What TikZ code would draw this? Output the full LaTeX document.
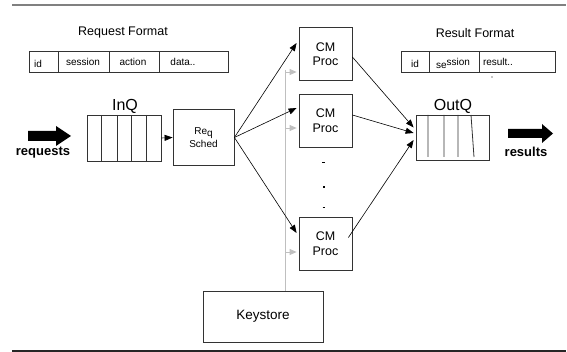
\documentclass[tikz,border=0pt]{standalone}
\usepackage{fontspec}
\setmainfont{Liberation Sans}
\usetikzlibrary{arrows.meta}
\begin{document}
\begin{tikzpicture}[x=1pt,y=-1pt,
  box/.style={draw=black!80,line width=0.8pt,inner sep=0pt,align=center},
  lbl/.style={inner sep=0pt,anchor=center},
  arr/.style={-{Triangle[length=8pt,width=6pt]},line width=0.6pt},
  garr/.style={-{Triangle[length=7pt,width=6pt]},draw=black!25,line width=0.8pt,shorten >=2pt},
  div/.style={draw=black!80,line width=0.8pt}]
\useasboundingbox (0,0) rectangle (567,352);
% rules
\draw[black!50,line width=2pt] (12,5) -- (566,5);
\draw[black!85,line width=1.3pt] (12,351) -- (566,351);

% Request format
\node[lbl,font=\fontsize{12.5}{13}\selectfont] (rqf) at (123,33) {Request Format};
\node[box,minimum width=199pt,minimum height=21pt] (rqt) at (128.5,61.5) {};
\draw[div] (58,51) -- (58,72) (109,51) -- (109,72) (159,51) -- (159,72);
\begin{scope}[font=\fontsize{10}{10}\selectfont]
\node[lbl] (rq1) at (38,64) {id};
\node[lbl] (rq2) at (83,62) {session};
\node[lbl] (rq3) at (133,62) {action};
\node[lbl] (rq4) at (183,62) {data..};
\end{scope}

% Result format
\node[lbl,font=\fontsize{12.5}{13}\selectfont] (rsf) at (475,33) {Result Format};
\node[box,minimum width=154pt,minimum height=21pt] (rst) at (478,61.5) {};
\draw[div] (429,51) -- (429,72) (479,51) -- (479,72);
\begin{scope}[font=\fontsize{10}{10}\selectfont]
\node[lbl] (rs1) at (415,64) {id};
\node[lbl] (rs2) at (453,63) {se\raisebox{3pt}{ssion}};
\node[lbl] (rs3) at (498,62) {result..};
\end{scope}
\fill (492,77) circle (0.7);

% InQ
\node[lbl,font=\fontsize{16}{16}\selectfont] (inql) at (125,106) {InQ};
\node[box,minimum width=74pt,minimum height=46pt] (inq) at (124,138) {};
\draw[div] (101,115) -- (101,161) (117,115) -- (117,161) (131,115) -- (131,161) (146,115) -- (146,161);

% OutQ
\node[lbl,font=\fontsize{16}{16}\selectfont] (outql) at (453,106) {OutQ};
\node[box,minimum width=73pt,minimum height=45pt] (outq) at (452.5,137.5) {};
\draw[div] (428,115) -- (428,157) (444,115) -- (444,157) (458,115) -- (458,157) (471,115) -- (474,157);

% Req Sched
\node[box,minimum width=61pt,minimum height=56pt,font=\fontsize{10}{13}\selectfont] (rs) at (203.5,137.5) {Re\raisebox{-2pt}{q}\\Sched};

% CM Proc boxes
\begin{scope}[every node/.style={box,minimum width=53pt,minimum height=53pt,font=\fontsize{12.5}{14.5}\selectfont}]
\node (cm1) at (325.5,54) {CM\\Proc};
\node (cm2) at (325.5,120.5) {CM\\Proc};
\node (cm3) at (325.5,243.5) {CM\\Proc};
\end{scope}

% dots
\draw[line width=0.8pt] (322,162.5) -- (325,162.5);
\fill (322.5,186) rectangle (325,188.5);
\draw[line width=0.6pt] (322.5,207) -- (324.5,207);

% Keystore
\node[box,minimum width=120pt,minimum height=51pt,font=\fontsize{13.5}{14}\selectfont] (ks) at (263,316.5) {Keystore};

% gray key distribution
\coordinate (gtop) at (285,70);
\draw[black!25,line width=0.8pt] (gtop) -- (ks.north -| gtop);
\draw[garr] (285,72) -- ([yshift=-18pt]cm1.west);
\draw[garr] (285,128) -- ([yshift=-7.5pt]cm2.west);
\draw[garr] (285,252) -- ([yshift=-8.5pt]cm3.west);

% big arrows
\fill (28,131) -- (56,131) -- (56,126) -- (71,136) -- (56,146) -- (56,141) -- (28,141) -- cycle;
\node[lbl,font=\bfseries\fontsize{13}{13}\selectfont] (req) at (43,153) {requests};
\fill (508,129) -- (542,129) -- (542,124) -- (553,133.5) -- (542,143) -- (542,138) -- (508,138) -- cycle;
\node[lbl,font=\bfseries\fontsize{13}{13}\selectfont] (res) at (526,152) {results};

% black arrows
\draw[arr] (inq.east) -- (rs.west);
\draw[arr] (rs.east) -- ([yshift=11pt,xshift=-2pt]cm1.west);
\draw[arr] (rs.east) -- ([yshift=12.5pt,xshift=-2pt]cm2.west);
\draw[arr] (rs.east) -- ([yshift=10.5pt,xshift=-2pt]cm3.west);
\draw[arr] ([yshift=-3pt]cm1.east) -- ([yshift=10pt,xshift=-2pt]outq.west);
\draw[arr] ([yshift=5.5pt]cm2.east) -- ([yshift=4.5pt,xshift=-2pt]outq.west);
\draw[arr] ([yshift=6pt,xshift=-4pt]cm3.east) -- ([yshift=-2.5pt,xshift=-2pt]outq.west);
\end{tikzpicture}
\end{document}
